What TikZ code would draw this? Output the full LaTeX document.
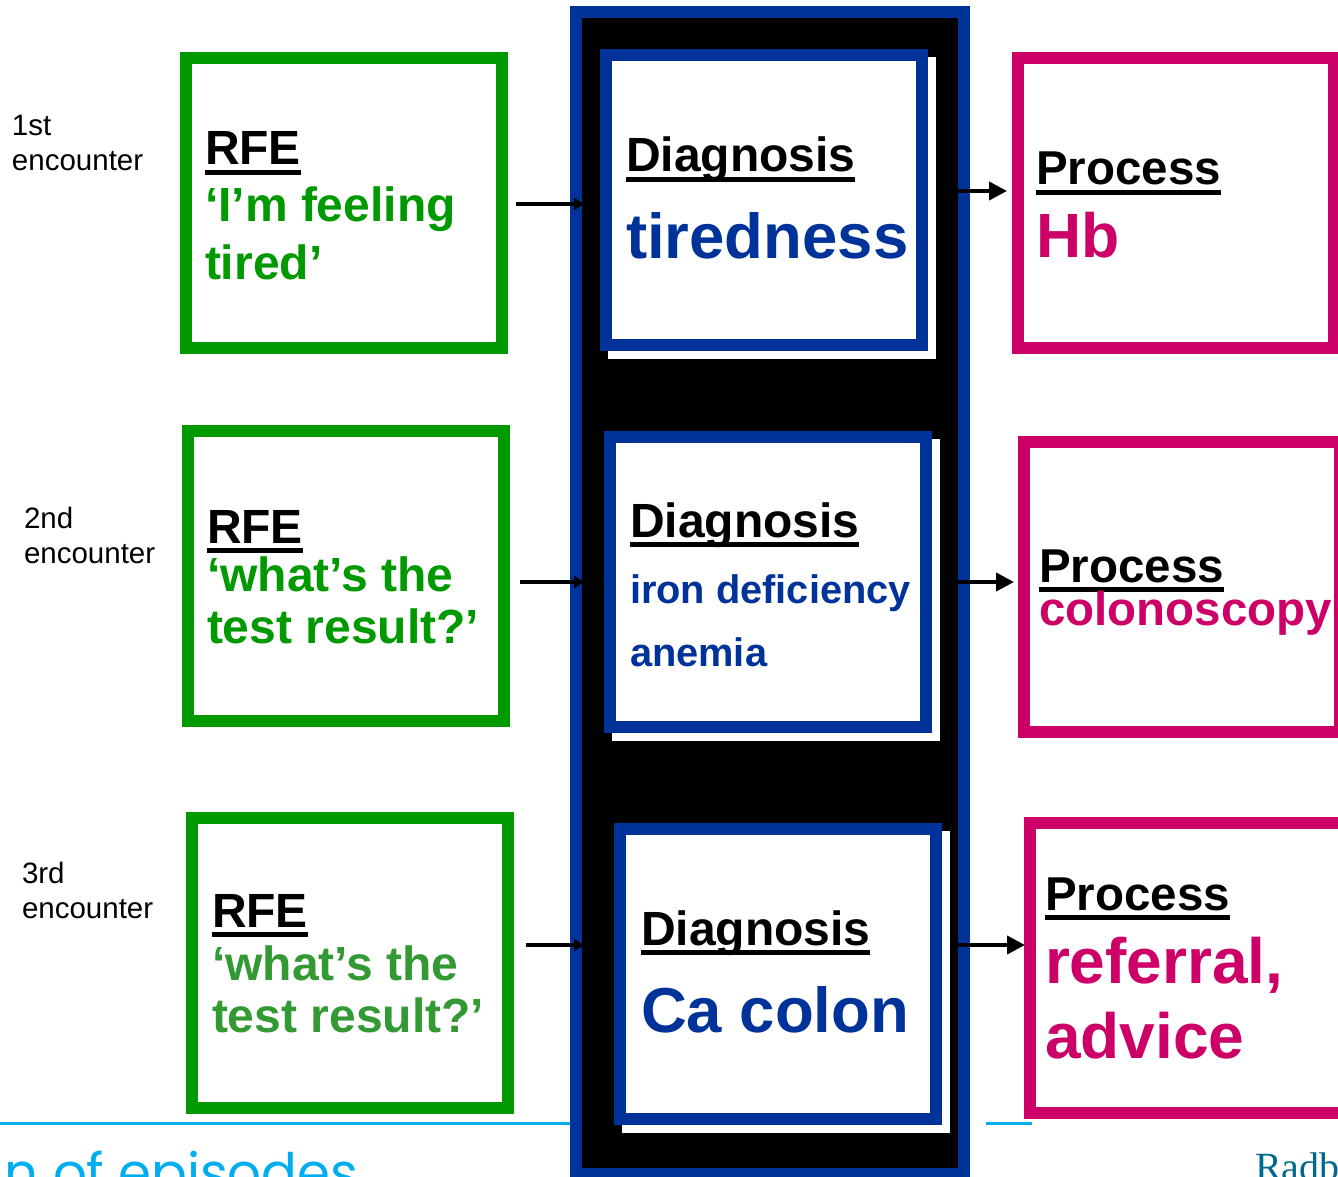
\documentclass[tikz,border=0pt]{standalone}
\usepackage{fontspec}
\setmainfont{Liberation Sans}
\newfontfamily\serifx{Liberation Serif}
\newfontfamily\footfnt{Poppins}
\usetikzlibrary{calc,arrows.meta}
\definecolor{rfegreen}{RGB}{0,153,0}
\definecolor{rfegreenb}{RGB}{51,153,51}
\definecolor{dxblue}{RGB}{0,51,153}
\definecolor{prpink}{RGB}{204,0,102}
\definecolor{slcyan}{RGB}{0,174,239}
\definecolor{radteal}{RGB}{0,104,140}
\newcommand\ulbar[1]{\setbox0=\hbox{#1}\rlap{\vrule height -4.5pt depth 10pt width \wd0}\box0}
\tikzset{
  txt/.style={anchor=base west, inner sep=0, outer sep=0},
  fsz/.style={font=\fontsize{#1}{#1}\selectfont},
  fsb/.style={font=\fontsize{#1}{#1}\selectfont\bfseries},
  gbox/.style={draw=rfegreen, line width=12, fill=white, minimum width=316, minimum height=290, inner sep=0},
  dbox/.style={draw=dxblue, line width=12, fill=white, minimum width=316, minimum height=290, inner sep=0},
  dshadow/.style={fill=white, minimum width=328, minimum height=302, inner sep=0},
  pbox/.style={draw=prpink, line width=12, fill=white, minimum width=316, minimum height=290, inner sep=0},
  colbox/.style={draw=dxblue, line width=12, fill=black, minimum width=388, minimum height=1162, inner sep=0},
  lconn/.style={line width=4, -{Triangle[length=10,width=12]}},
  rconn/.style={line width=4, -{Triangle[length=18,width=18]}},
  cyanline/.style={draw=slcyan, line width=3}
}
\begin{document}
\begin{tikzpicture}[x=1pt,y=-1pt]
\useasboundingbox (0,0) rectangle (1338,1177);
\clip (0,0) rectangle (1338,1177);

% slide remnants
\coordinate (cl1) at (0,1123);
\coordinate (cl2) at (572,1123);
\coordinate (cl3) at (986,1123);
\coordinate (cl4) at (1032,1123);
\draw[cyanline] (cl1) -- (cl2);
\draw[cyanline] (cl3) -- (cl4);
\node[txt, text=slcyan, font=\fontsize{53}{53}\selectfont\footfnt] (foot) at (5,1191) {n of episodes};
\node[txt, text=radteal, font=\fontsize{40}{40}\selectfont\serifx] (logo) at (1255,1180) {Radboud};

% central column
\node[colbox] (col) at (770,593) {};

% encounter labels
\node[txt, fsz=29.5] (e1a) at (12,136) {1st};
\node[txt, fsz=29.5] (e1b) at (12,171) {encounter};
\node[txt, fsz=29.5] (e2a) at (24,528) {2nd};
\node[txt, fsz=29.5] (e2b) at (24,563) {encounter};
\node[txt, fsz=29.5] (e3a) at (22,883) {3rd};
\node[txt, fsz=29.5] (e3b) at (22,918) {encounter};

% RFE boxes
\node[gbox] (g1) at (344,203) {};
\node[gbox] (g2) at (346,576) {};
\node[gbox] (g3) at (350,963) {};

\node[txt, fsb=48] (g1h) at (205,165) {\ulbar{RFE}};
\node[txt, fsb=48, text=rfegreen] (g1a) at (205,222) {‘I’m feeling};
\node[txt, fsb=48, text=rfegreen] (g1b) at (205,279) {tired’};

\node[txt, fsb=48] (g2h) at (207,543) {\ulbar{RFE}};
\node[txt, fsb=48, text=rfegreen] (g2a) at (207,591) {‘what’s the};
\node[txt, fsb=48, text=rfegreen] (g2b) at (207,643) {test result?’};

\node[txt, fsb=48] (g3h) at (212,927) {\ulbar{RFE}};
\node[txt, fsb=48, text=rfegreenb] (g3a) at (212,980) {‘what’s the};
\node[txt, fsb=48, text=rfegreenb] (g3b) at (212,1032) {test result?’};

% Diagnosis boxes
\node[dshadow] (d1s) at (772,208) {};
\node[dbox] (d1) at (764,200) {};
\node[dshadow] (d2s) at (776,590) {};
\node[dbox] (d2) at (768,582) {};
\node[dshadow] (d3s) at (786,982) {};
\node[dbox] (d3) at (778,974) {};

\node[txt, fsb=48] (d1h) at (626,172) {\ulbar{Diagnosis}};
\node[txt, fsb=63.5, text=dxblue] (d1a) at (626,258) {tiredness};

\node[txt, fsb=48] (d2h) at (630,537) {\ulbar{Diagnosis}};
\node[txt, fsb=39.8, text=dxblue] (d2a) at (630,603) {iron deficiency};
\node[txt, fsb=39.8, text=dxblue] (d2b) at (630,666) {anemia};

\node[txt, fsb=48] (d3h) at (641,945) {\ulbar{Diagnosis}};
\node[txt, fsb=63.5, text=dxblue] (d3a) at (641,1032) {Ca colon};

% Process boxes
\node[pbox] (p1) at (1176,203) {};
\node[pbox] (p2) at (1182,587) {};
\node[pbox] (p3) at (1188,968) {};

\node[txt, fsb=47.5] (p1h) at (1036,185) {\ulbar{Process}};
\node[txt, fsb=62.5, text=prpink] (p1a) at (1036,257) {Hb};

\node[txt, fsb=47.5] (p2h) at (1039,582) {\ulbar{Process}};
\node[txt, fsb=47.5, text=prpink] (p2a) at (1039,625) {colonoscopy};

\node[txt, fsb=47.5] (p3h) at (1045,910) {\ulbar{Process}};
\node[txt, fsb=64, text=prpink] (p3a) at (1045,983) {referral,};
\node[txt, fsb=64, text=prpink] (p3b) at (1045,1058) {advice};

% connectors
\coordinate (r1) at (0,204);
\coordinate (r2) at (0,582);
\coordinate (r3) at (0,945);
\coordinate (s1) at (0,191);
\coordinate (s2) at (0,582);
\coordinate (s3) at (0,945);

\draw[lconn] ($(g1.east |- r1)+(8,0)$) -- ($(col.west |- r1)+(14,0)$);
\draw[lconn] ($(g2.east |- r2)+(10,0)$) -- ($(col.west |- r2)+(14,0)$);
\draw[lconn] ($(g3.east |- r3)+(12,0)$) -- ($(col.west |- r3)+(14,0)$);

\draw[rconn] ($(col.east |- s1)+(-13,0)$) -- ($(p1.west |- s1)+(-5,0)$);
\draw[rconn] ($(col.east |- s2)+(-13,0)$) -- ($(p2.west |- s2)+(-4,0)$);
\draw[rconn] ($(col.east |- s3)+(-13,0)$) -- ($(p3.west |- s3)+(1,0)$);
\end{tikzpicture}
\end{document}
